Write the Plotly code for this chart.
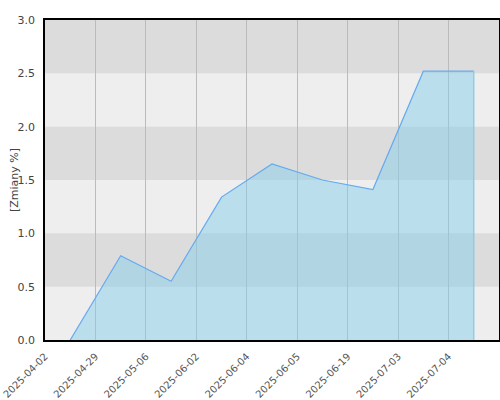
import plotly.graph_objects as go

# dates shown on the x axis (one per point)
dates = ["2025-04-02", "2025-04-29", "2025-05-06", "2025-06-02", "2025-06-04",
         "2025-06-05", "2025-06-19", "2025-07-03", "2025-07-04"]
changes = [0.0, 0.79, 0.55, 1.34, 1.65, 1.50, 1.41, 2.52, 2.52]

y_ticks = [0.0, 0.5, 1.0, 1.5, 2.0, 2.5, 3.0]

# points sit in the middle of each category slot, labels on the slot edges
xs = [i + 0.5 for i in range(len(dates))]
tick_pos = list(range(len(dates)))

fig = go.Figure()
fig.add_trace(go.Scatter(x=xs, y=changes, mode="lines", fill="tozeroy",
                         fillcolor="rgba(135,206,235,0.5)",
                         line=dict(color="#66aaee", width=1.2),
                         hoverinfo="skip", showlegend=False))
# closing edge of the area
fig.add_trace(go.Scatter(x=[xs[-1], xs[-1]], y=[0, changes[-1]], mode="lines",
                         line=dict(color="#7ccbea", width=1.2),
                         hoverinfo="skip", showlegend=False))

# alternating grey bands
shapes = []
for k in range(len(y_ticks) - 1):
    if k % 2 == 1:
        shapes.append(dict(type="rect", xref="paper", yref="y", x0=0, x1=1,
                           y0=y_ticks[k], y1=y_ticks[k + 1], layer="below",
                           fillcolor="#dcdcdc", line=dict(width=0)))

fig.update_layout(
    width=500, height=400,
    margin=dict(l=45, r=1, t=20, b=60),
    paper_bgcolor="white", plot_bgcolor="#eeeeee",
    font=dict(family="DejaVu Sans", size=10, color="#444444"),
    shapes=shapes,
    xaxis=dict(range=[0, len(dates)], tickmode="array", tickvals=tick_pos,
               ticktext=dates, tickangle=-45, showgrid=True,
               gridcolor="#bbbbbb", gridwidth=1, zeroline=False,
               showline=True, linecolor="black", linewidth=1.5, mirror=True,
               ticks="outside", ticklen=5, tickcolor="rgba(0,0,0,0)",
               tickfont=dict(size=10, color="#555555"), automargin=False),
    yaxis=dict(range=[0, 3.0], tickmode="array", tickvals=y_ticks,
               ticktext=["%.1f" % v for v in y_ticks], showgrid=False,
               zeroline=False, showline=True, linecolor="black", linewidth=1.5,
               mirror=True, ticks="outside", ticklen=6,
               tickcolor="rgba(0,0,0,0)", tickfont=dict(size=11),
               automargin=False),
)

# axis title placed by hand so it sits where the original has it
fig.add_annotation(text="[Zmiany %]", xref="paper", yref="paper",
                   x=-31 / 454, y=0.5, xanchor="center", yanchor="middle",
                   textangle=-90, showarrow=False,
                   font=dict(size=11, color="#444444"))

fig.write_html("out.html", config={"responsive": False, "displayModeBar": False},
               post_script="document.body.style.margin='0px';")
